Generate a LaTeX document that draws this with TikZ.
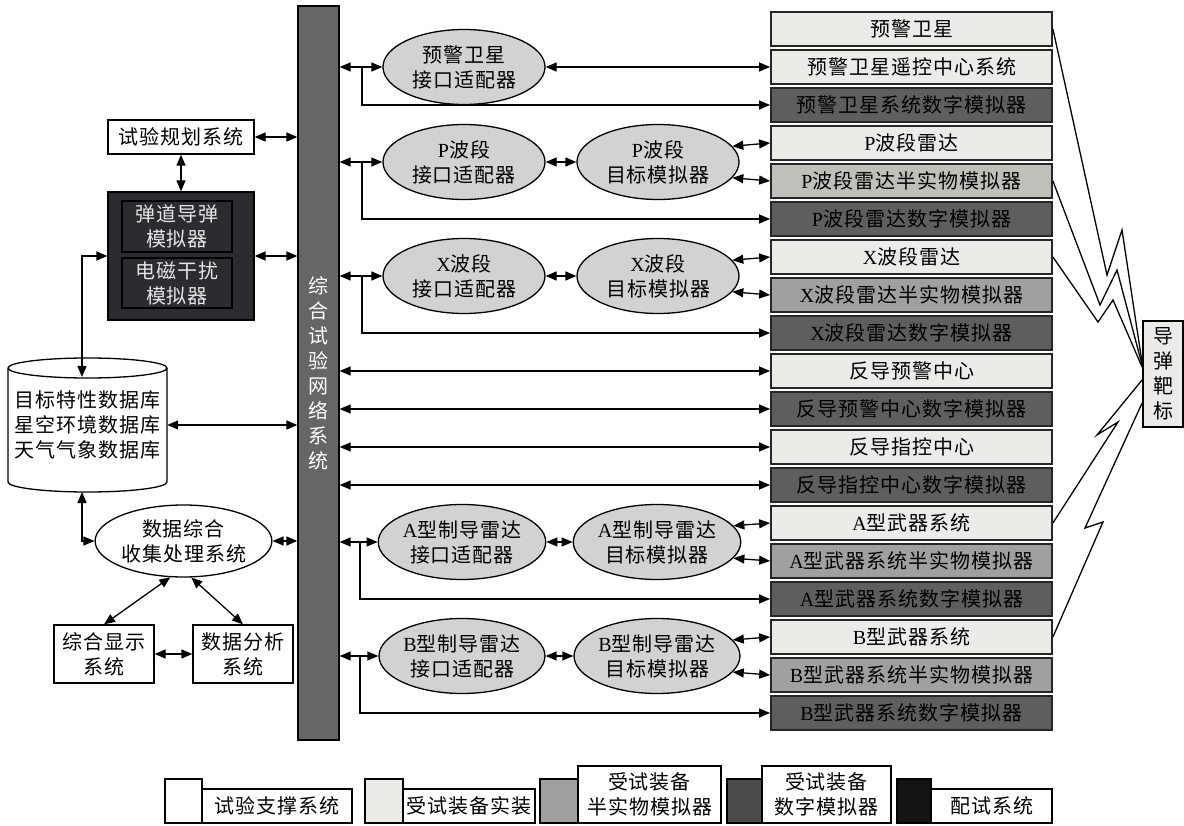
\documentclass[tikz,border=0pt]{standalone}
\usepackage{fontspec}
\setmainfont[LetterSpace=5]{Noto Sans CJK SC}
\newfontfamily\lat{Liberation Serif}
\usetikzlibrary{arrows.meta,shapes.geometric,calc}
\newcommand\lt[1]{{\lat #1}}
\definecolor{cReal}{HTML}{EDEBE8}
\definecolor{cHalfP}{HTML}{BFC0BA}
\definecolor{cHalf}{HTML}{A19FA0}
\definecolor{cDigi}{HTML}{5E5E5E}
\definecolor{cEll}{HTML}{D2D2D2}
\definecolor{cBar}{HTML}{666666}
\definecolor{cDark}{HTML}{2B2B30}
\definecolor{cLHalf}{HTML}{A0A0A0}
\definecolor{cLDigi}{HTML}{4B4B4B}
\definecolor{cLPei}{HTML}{141414}
\begin{document}
\begin{tikzpicture}[x=1pt,y=-1pt,
  font=\fontsize{20}{25}\selectfont,
  rbox/.style={draw=black!85, line width=1.8pt, minimum width=281, minimum height=34, inner sep=0pt},
  real/.style={rbox, fill=cReal},
  halfp/.style={rbox, fill=cHalfP},
  half/.style={rbox, fill=cHalf},
  digi/.style={rbox, fill=cDigi},
  ell/.style={ellipse, draw, fill=cEll, line width=1.3pt, minimum width=162, minimum height=75, inner sep=0pt, align=center},
  wbox/.style={draw, line width=1.3pt, fill=white, align=center, inner sep=0pt},
  lg/.style={draw, line width=1.3pt, align=center, inner sep=0pt},
  arr/.style={line width=1.3pt, -{Triangle[length=11pt,width=9pt]}},
  darr/.style={line width=1.3pt, {Triangle[length=11pt,width=9pt]}-{Triangle[length=11pt,width=9pt]}},
  bolt/.style={line width=1.3pt, line join=miter}
]
\useasboundingbox (0,0) rectangle (1184,826);

% central bar
\node[draw, fill=cBar, line width=1.3pt, minimum width=41, minimum height=734, inner sep=0pt, text=white, align=center] (bar) at (318.5,373) {综\\合\\试\\验\\网\\络\\系\\统};

% right column
\node[real]  (r1)  at (911.5,29)  {预警卫星};
\node[real]  (r2)  at (911.5,67)  {预警卫星遥控中心系统};
\node[digi]  (r3)  at (911.5,105) {预警卫星系统数字模拟器};
\node[real]  (r4)  at (911.5,143) {\lt{P}波段雷达};
\node[halfp] (r5)  at (911.5,181) {\lt{P}波段雷达半实物模拟器};
\node[digi]  (r6)  at (911.5,219) {\lt{P}波段雷达数字模拟器};
\node[real]  (r7)  at (911.5,257) {\lt{X}波段雷达};
\node[half]  (r8)  at (911.5,295) {\lt{X}波段雷达半实物模拟器};
\node[digi]  (r9)  at (911.5,333) {\lt{X}波段雷达数字模拟器};
\node[real]  (r10) at (911.5,371) {反导预警中心};
\node[digi]  (r11) at (911.5,409) {反导预警中心数字模拟器};
\node[real]  (r12) at (911.5,447) {反导指控中心};
\node[digi]  (r13) at (911.5,485) {反导指控中心数字模拟器};
\node[real]  (r14) at (911.5,523) {\lt{A}型武器系统};
\node[half]  (r15) at (911.5,561) {\lt{A}型武器系统半实物模拟器};
\node[digi]  (r16) at (911.5,599) {\lt{A}型武器系统数字模拟器};
\node[real]  (r17) at (911.5,637) {\lt{B}型武器系统};
\node[half]  (r18) at (911.5,675) {\lt{B}型武器系统半实物模拟器};
\node[digi]  (r19) at (911.5,713) {\lt{B}型武器系统数字模拟器};

% target
\node[draw, fill=cReal, line width=1.8pt, minimum width=40, minimum height=106, inner sep=0pt, align=center] (tgt) at (1163,374) {导\\弹\\靶\\标};

% ellipses
\node[ell] (ad1) at (464,67)  {预警卫星\\接口适配器};
\node[ell] (adP) at (464,162) {\lt{P}波段\\接口适配器};
\node[ell] (tP)  at (658,162) {\lt{P}波段\\目标模拟器};
\node[ell] (adX) at (464,276) {\lt{X}波段\\接口适配器};
\node[ell] (tX)  at (658,276) {\lt{X}波段\\目标模拟器};
\node[ell] (adA) at (462,542) {\lt{A}型制导雷达\\接口适配器};
\node[ell] (tA)  at (657,542) {\lt{A}型制导雷达\\目标模拟器};
\node[ell] (adB) at (462,656) {\lt{B}型制导雷达\\接口适配器};
\node[ell] (tB)  at (657,656) {\lt{B}型制导雷达\\目标模拟器};

% left side
\node[wbox, minimum width=146, minimum height=34] (plan) at (181,137) {试验规划系统};
\node[draw=black, fill=cDark, line width=1.3pt, minimum width=146, minimum height=128, inner sep=0pt] (dark) at (181,256) {};
\node[draw=black, fill=cDark, line width=1.3pt, minimum width=110, minimum height=51, inner sep=0pt, text=white!90!black, align=center] (bm) at (177,226.5) {弹道导弹\\模拟器};
\node[draw=black, fill=cDark, line width=1.3pt, minimum width=110, minimum height=50, inner sep=0pt, text=white!90!black, align=center] (em) at (177,283) {电磁干扰\\模拟器};

% database cylinder
\filldraw[fill=white, line width=1.3pt] (8,368) -- (8,482) arc[start angle=180,end angle=360,x radius=79.5pt,y radius=10pt] -- (167,368) arc[start angle=0,end angle=180,x radius=79.5pt,y radius=10pt] -- cycle;
\draw[line width=1.3pt] (8,368) arc[start angle=180,end angle=360,x radius=79.5pt,y radius=10pt];
\node[minimum width=159, minimum height=134, inner sep=0pt, align=center] (db) at (87.5,425) {目标特性数据库\\星空环境数据库\\天气气象数据库};
\coordinate (dbtop) at (82,377);
\coordinate (dbbot) at (82,492);

\node[ellipse, draw, fill=white, line width=1.3pt, minimum width=163, minimum height=72, inner sep=0pt, align=center] (dc) at (183.5,541) {数据综合\\收集处理系统};
\node[wbox, minimum width=100, minimum height=58] (disp) at (104,654) {综合显示\\系统};
\node[wbox, minimum width=100, minimum height=58] (ana) at (243,654) {数据分析\\系统};

% left connectors
\draw[darr] (plan.east) -- (plan.east -| bar.west);
\draw[darr] (plan.south) -- (dark.north);
\draw[darr] (dark.east) -- (dark.east -| bar.west);
\draw[darr] (dark.west) -| (dbtop);
\draw[darr] (db.east) -- (db.east -| bar.west);
\draw[darr] (dbbot) |- (dc.west);
\draw[darr] (dc.east) -- (dc.east -| bar.west);
\draw[darr] (dc.250) -- (disp.north);
\draw[darr] (dc.282) -- (ana.north);
\draw[darr] (disp.east) -- (ana.west);

% right connectors
\coordinate (b1) at (362,67);
\coordinate (bP) at (362,162);
\coordinate (bX) at (362,276);
\coordinate (bA) at (360,542);
\coordinate (bB) at (360,656);
\foreach \a in {ad1,adP,adX,adA,adB}{
  \draw[darr] (\a.west -| bar.east) -- (\a.west);
}
\draw[arr] (b1) |- (r3.west);
\draw[arr] (bP) |- (r6.west);
\draw[arr] (bX) |- (r9.west);
\draw[arr] (bA) |- (r16.west);
\draw[arr] (bB) |- (r19.west);
\draw[darr] (ad1.east) -- (r2.west);
\draw[darr] (adP.east) -- (tP.west);
\draw[darr] (adX.east) -- (tX.west);
\draw[darr] (adA.east) -- (tA.west);
\draw[darr] (adB.east) -- (tB.west);
\draw[darr] (tP.12) -- (r4.west);
\draw[darr] (tP.-12) -- (r5.west);
\draw[darr] (tX.12) -- (r7.west);
\draw[darr] (tX.-12) -- (r8.west);
\draw[darr] (tA.12) -- (r14.west);
\draw[darr] (tA.-12) -- (r15.west);
\draw[darr] (tB.12) -- (r17.west);
\draw[darr] (tB.-12) -- (r18.west);
\foreach \r in {r10,r11,r12,r13}{
  \draw[darr] (\r.west -| bar.east) -- (\r.west);
}

% lightning bolts
\draw[bolt] (r1.east) -- (1107,275) -- (1122,230) -- ($(tgt.west)+(0,-11)$);
\draw[bolt] (r5.east) -- (1100,305) -- (1117,270) -- ($(tgt.west)+(0,-9)$);
\draw[bolt] (r7.east) -- (1098,322) -- (1113,300) -- ($(tgt.west)+(0,-7)$);
\draw[bolt] (r14.east) -- (1118,422) -- (1097,435) -- ($(tgt.west)+(0,6)$);
\draw[bolt] (r17.east) -- (1103,522) -- (1085,528) -- ($(tgt.west)+(0,29)$);

% legend
\node[lg, fill=white, minimum width=37, minimum height=44] (l1s) at (183.5,801) {};
\node[lg, fill=white, minimum width=150, minimum height=34] (l1) at (277,806) {试验支撑系统};
\node[lg, fill=cReal, minimum width=38, minimum height=44] (l2s) at (384,801) {};
\node[lg, fill=white, minimum width=132, minimum height=34] (l2) at (469,806) {受试装备实装};
\node[lg, fill=cLHalf, minimum width=38, minimum height=44] (l3s) at (559,801) {};
\node[lg, fill=white, minimum width=143, minimum height=57] (l3) at (649.5,794.5) {受试装备\\半实物模拟器};
\node[lg, fill=cLDigi, minimum width=35, minimum height=44] (l4s) at (744.5,801) {};
\node[lg, fill=white, minimum width=129, minimum height=57] (l4) at (826.5,794.5) {受试装备\\数字模拟器};
\node[lg, fill=cLPei, minimum width=34, minimum height=44] (l5s) at (914,801) {};
\node[lg, fill=white, minimum width=121, minimum height=34] (l5) at (991.5,806) {配试系统};
\end{tikzpicture}
\end{document}
